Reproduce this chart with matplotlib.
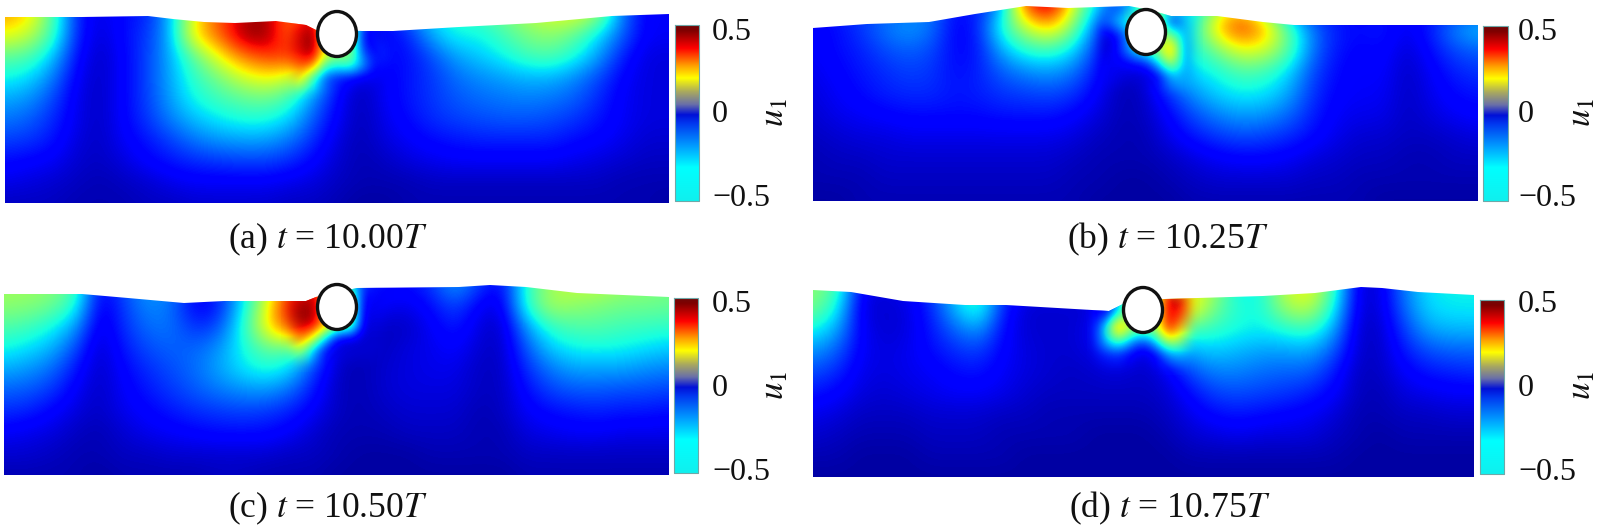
import numpy as np
import matplotlib
matplotlib.use("Agg")
import matplotlib.pyplot as plt
from matplotlib.colors import LinearSegmentedColormap, PowerNorm
from matplotlib.patches import Ellipse, Polygon

plt.rcParams['font.family'] = ['Liberation Serif', 'DejaVu Serif']
plt.rcParams['mathtext.fontset'] = 'stix'

# Colour level of the field (percent of the jet scale), rows top to bottom, columns left to right
field_a = [
 [72,65,40,12,6,10,12,25,60,80,92,98,74,90,50,15,10,20,30,35,38,45,52,58,60,50,20,8,8],
 [60,55,38,12,5,10,14,25,65,78,98,100,74,95,60,15,8,12,25,33,32,38,45,48,42,30,18,8,8],
 [42,40,28,10,4,9,15,25,42,60,76,84,86,90,45,30,10,10,16,24,28,32,38,40,34,24,12,6,6],
 [33,30,21,8,4,9,15,25,36,45,56,62,56,35,12,4,8,11,14,19,22,24,26,26,22,16,9,6,6],
 [25,23,16,7,4,9,15,24,33,38,42,44,38,22,9,3,8,11,14,17,19,20,21,20,18,13,8,6,6],
 [20,18,13,7,4,9,14,21,27,31,34,34,29,17,8,3,7,10,13,15,16,17,17,16,14,11,8,6,6],
 [15,14,11,6,4,8,11,15,20,23,24,24,20,13,6,3,6,8,10,11,12,12,12,12,10,9,7,5,5],
 [10,9,8,5,4,6,9,11,13,14,15,15,13,9,5,3,4,6,7,8,8,8,8,8,7,6,5,4,4],
 [7,6,5,4,3,4,5,7,8,8,8,8,7,6,4,3,3,3,4,4,4,4,4,4,4,4,3,3,3],
 [4,4,4,3,3,3,4,4,5,5,5,5,4,4,3,2,2,3,3,3,3,3,3,3,3,3,3,3,2],
]
field_b = [
 [12,12,14,15,18,20,10,12,22,85,100,55,28,12,50,30,25,45,60,35,12,8,8,8,8,8,8,8,8],
 [8,10,14,20,24,20,8,12,36,55,68,44,15,6,50,35,30,68,88,72,40,20,12,10,12,7,12,22,28],
 [8,10,12,16,18,16,9,11,26,36,38,30,12,4,30,30,34,45,60,58,42,20,11,9,10,5,10,16,18],
 [7,9,11,13,15,14,10,12,18,22,24,20,10,3,6,26,30,33,40,38,30,16,10,8,9,4,8,12,14],
 [6,8,10,12,13,13,11,12,14,15,16,14,8,3,4,14,23,29,32,31,25,14,9,8,8,4,7,10,11],
 [5,7,8,9,10,10,10,10,11,11,11,9,6,3,4,9,16,21,24,23,19,12,8,7,7,4,6,8,9],
 [4,5,6,6,7,7,7,7,7,7,7,6,4,3,3,7,11,14,16,15,13,10,7,5,5,4,4,5,6],
 [3,4,4,5,5,5,5,5,5,5,5,4,3,3,3,4,6,8,9,9,8,6,5,4,4,3,3,4,4],
 [3,3,3,4,4,4,4,4,4,4,4,3,3,2,2,3,4,5,5,5,5,4,4,3,3,3,3,3,3],
 [2,2,3,3,3,3,3,3,3,3,3,3,2,2,2,2,3,3,3,3,3,3,3,3,2,2,2,2,2],
]
field_c = [
 [50,50,48,40,8,16,24,22,10,12,28,48,80,85,50,14,10,10,14,25,15,8,35,50,55,55,50,48,45],
 [48,47,44,35,6,14,22,20,8,10,28,55,92,92,60,12,8,7,10,16,8,6,35,52,48,46,44,44,43],
 [40,38,33,24,5,13,19,20,13,15,32,60,85,80,40,6,4,4,8,12,6,4,23,36,40,40,38,37,36],
 [33,30,26,16,4,11,16,18,18,22,32,42,42,24,6,4,4,6,7,9,5,4,17,28,32,33,32,30,28],
 [25,23,19,11,4,9,13,16,19,24,30,34,30,15,4,3,5,6,7,7,4,4,13,20,24,24,24,22,21],
 [18,17,14,8,4,8,11,14,17,20,22,23,19,11,4,3,5,6,6,6,4,4,10,15,17,17,16,16,15],
 [13,12,9,6,4,7,9,11,13,14,15,14,12,8,4,3,4,5,5,5,3,4,8,10,11,12,11,11,10],
 [8,7,6,4,3,5,7,8,9,10,10,10,8,5,3,3,3,4,4,4,3,3,6,7,8,8,7,7,7],
 [5,5,4,3,3,4,4,5,5,5,5,5,4,4,3,2,2,2,3,3,3,3,4,4,4,4,4,4,4],
 [3,3,3,3,2,3,3,3,3,4,4,3,3,3,2,2,2,2,2,2,2,2,3,3,3,3,3,3,3],
]
field_d = [
 [48,40,8,6,8,14,28,38,15,8,8,8,8,35,40,55,60,50,30,32,55,62,40,6,5,20,30,32,32],
 [45,33,6,5,6,12,26,38,12,5,5,5,5,30,45,60,66,44,34,33,50,55,34,6,5,18,29,31,31],
 [33,25,8,5,6,11,18,24,10,5,5,5,8,20,30,40,38,36,33,31,34,37,26,5,4,14,24,26,26],
 [23,18,8,6,7,10,13,15,9,6,5,5,7,10,5,14,26,28,26,24,24,25,18,5,4,11,16,18,18],
 [16,13,7,6,7,8,10,11,8,6,5,4,5,6,4,7,16,21,21,19,18,18,12,4,4,8,11,12,13],
 [11,9,6,5,6,7,8,8,7,5,4,4,4,4,4,5,10,15,16,15,14,12,9,4,3,6,7,8,8],
 [7,6,4,4,4,5,5,5,4,4,3,3,3,3,3,4,7,10,11,10,9,8,6,3,3,4,4,5,5],
 [5,4,3,3,3,4,4,4,3,3,3,3,2,2,2,3,5,6,7,6,6,6,4,3,2,3,3,3,3],
 [3,3,2,2,2,3,3,3,3,2,2,2,2,2,2,2,3,3,3,3,3,3,3,2,2,2,2,2,2],
 [2,2,2,2,2,2,2,2,2,2,2,2,2,2,2,2,2,2,2,2,2,2,2,2,2,2,2,2,2],
]

# Finer readings around each cylinder, same scale
detail_a = [
 [85,95,60,50,50,15,8],
 [92,100,60,50,50,10,7],
 [90,100,60,50,50,14,9],
 [82,78,40,36,40,25,10],
 [62,35,15,10,8,6,7],
]
detail_b = [
 [20,30,40,50,50,10,25],
 [5,12,30,50,50,45,25],
 [5,14,30,40,50,75,22],
 [8,8,10,12,30,55,25],
 [8,6,5,5,8,25,24],
]
detail_c = [
 [90,95,70,50,50,10,8],
 [98,98,70,50,50,8,7],
 [95,95,70,50,50,6,6],
 [78,60,30,8,6,5,5],
 [50,25,8,5,5,5,5],
]
detail_d = [
 [6,30,50,50,50,95,90],
 [6,30,50,50,50,92,85],
 [30,80,50,50,50,90,68],
 [28,40,25,15,30,55,48],
 [12,14,8,5,8,22,25],
]

# Free surface of each panel
surface_x_a = [5,82,148,173,204,235,276,306,316,362,393,459,536,612,669]
surface_y_a = [17,17,16,19,22,23,21,25,30,31,31,27,23,16,14]
surface_x_b = [813,867,929,975,1026,1068,1129,1150,1171,1217,1263,1294,1376,1478]
surface_y_b = [28,24,22,14,6,8,6,10,16,16,22,25,25,25]
surface_x_c = [4,82,128,184,224,306,316,357,459,490,526,577,669]
surface_y_c = [294,294,298,303,301,301,297,288,287,285,287,293,297]
surface_x_d = [813,851,903,965,1006,1109,1129,1165,1263,1315,1361,1382,1418,1474]
surface_y_d = [290,292,301,305,305,311,301,299,296,293,287,288,292,295]

captions = ['(a) $t$ = 10.00$T$', '(b) $t$ = 10.25$T$', '(c) $t$ = 10.50$T$', '(d) $t$ = 10.75$T$']
tick_labels = ['0.5', '0', '\u22120.5']
bar_label = '$u_1$'

# Layout in reference pixels
panels = [
 dict(field=field_a, detail=detail_a, sx=surface_x_a, sy=surface_y_a, top=14, bottom=203, circle=(337,34),
      bar=(675,699,25,201), ticks=(712,32,115,199), ux=775, uy=113, cap=(328,239)),
 dict(field=field_b, detail=detail_b, sx=surface_x_b, sy=surface_y_b, top=5, bottom=201, circle=(1146,32),
      bar=(1483,1508,26,201), ticks=(1518,32,115,199), ux=1582, uy=113, cap=(1168,239)),
 dict(field=field_c, detail=detail_c, sx=surface_x_c, sy=surface_y_c, top=284, bottom=475, circle=(337,307),
      bar=(674,698,298,473), ticks=(712,304,389,473), ux=775, uy=386, cap=(328,508)),
 dict(field=field_d, detail=detail_d, sx=surface_x_d, sy=surface_y_d, top=287, bottom=477, circle=(1143,310),
      bar=(1480,1504,300,474), ticks=(1518,304,389,473), ux=1582, uy=386, cap=(1170,508)),
]

bar_cmap = LinearSegmentedColormap.from_list('bar', [
 (0.00, '#10f0ee'), (0.19, '#00ffff'), (0.32, '#0096ff'), (0.44, '#0038f0'), (0.49, '#0010d8'),
 (0.55, '#6a70a8'), (0.62, '#a8a860'), (0.70, '#ffff00'), (0.77, '#ffa000'), (0.87, '#ff0000'),
 (0.97, '#800000'), (1.00, '#700808')])

fig = plt.figure(figsize=(16.07, 5.28), dpi=100)
ax = fig.add_axes([0, 0, 1, 1])
norm = PowerNorm(gamma=0.88, vmin=0, vmax=1)

for cap, p in zip(captions, panels):
    grid = np.array(p['field'], dtype=float) / 100
    left, right = min(p['sx']), max(p['sx'])
    dx = (right - left) / (grid.shape[1] - 1)
    dy = (p['bottom'] - p['top']) / (grid.shape[0] - 1)
    im = ax.imshow(grid, cmap='jet', norm=norm, aspect='auto', origin='upper',
                   interpolation='bicubic', interpolation_stage='data',
                   extent=(left - dx/2, right + dx/2, p['bottom'] + dy/2, p['top'] - dy/2))
    outline = list(zip(p['sx'], p['sy'])) + [(right, p['bottom']), (left, p['bottom'])]
    clip = Polygon(outline, closed=True, transform=ax.transData, fc='none', ec='none')
    ax.add_patch(clip)
    im.set_clip_path(clip)

    # finer patch around the cylinder, feathered into the coarse field
    fine = np.pad(np.array(p['detail'], dtype=float) / 100, 1, mode='edge')
    fade = np.zeros(fine.shape)
    fade[1:-1, 1:-1] = 1
    cx, cy = p['circle']
    sx, sy = 12.5, 12
    patch = ax.imshow(fine, cmap='jet', norm=norm, aspect='auto', origin='upper', alpha=fade,
                      interpolation='bicubic', interpolation_stage='data',
                      extent=(cx - 4.5*sx, cx + 4.5*sx, cy + 5.5*sy - 1, cy - 1.5*sy - 13))
    patch.set_clip_path(clip)

    ax.add_patch(Ellipse(p['circle'], 39, 45, fc='white', ec='#111111', lw=2.4, zorder=5))

    x0, x1, y0, y1 = p['bar']
    ax.imshow(np.linspace(1, 0, 256)[:, None], cmap=bar_cmap, vmin=0, vmax=1, aspect='auto',
              extent=(x0, x1, y1, y0), interpolation='bilinear', zorder=2)
    ax.plot([x0, x1, x1, x0, x0], [y0, y0, y1, y1, y0], color='#6fa8a8', lw=0.8, zorder=3)

    tx = p['ticks'][0]
    for lab, ty in zip(tick_labels, p['ticks'][1:]):
        ax.text(tx, ty, lab, fontsize=23, ha='left', va='center', color='#111111')
    ax.text(p['ux'], p['uy'], bar_label, fontsize=25, rotation=90, ha='center', va='center', color='#111111')
    ax.text(p['cap'][0], p['cap'][1], cap, fontsize=25.5, ha='center', va='center', color='#111111')

ax.set_xlim(0, 1607)
ax.set_ylim(528, 0)
ax.axis('off')
fig.savefig('out.png', dpi=100, facecolor='white')
